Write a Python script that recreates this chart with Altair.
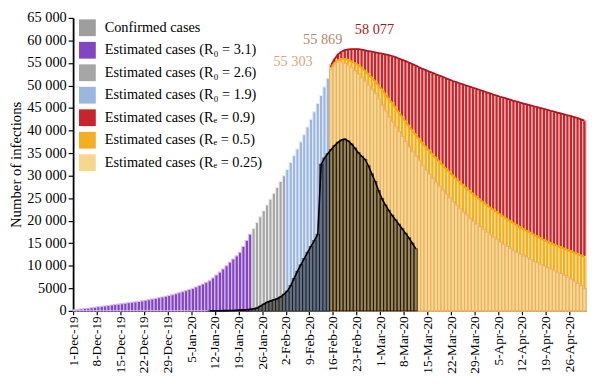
import altair as alt
import pandas as pd

FONT = "Liberation Serif, Times New Roman, serif"

# x axis: one category per day, 1-Dec-19 = day 0
TICK_LABELS = ["1-Dec-19", "8-Dec-19", "15-Dec-19", "22-Dec-19", "29-Dec-19", "5-Jan-20",
               "12-Jan-20", "19-Jan-20", "26-Jan-20", "2-Feb-20", "9-Feb-20", "16-Feb-20",
               "23-Feb-20", "1-Mar-20", "8-Mar-20", "15-Mar-20", "22-Mar-20", "29-Mar-20",
               "5-Apr-20", "12-Apr-20", "19-Apr-20", "26-Apr-20"]
TICK_DAYS = [7 * i for i in range(len(TICK_LABELS))]
N_DAYS = 152
Y_TICKS = [i * 5000 for i in range(14)]

SERIES = ["Confirmed cases",
          "Estimated cases (R\u2080 = 3.1)",
          "Estimated cases (R\u2080 = 2.6)",
          "Estimated cases (R\u2080 = 1.9)",
          "Estimated cases (R\u2091 = 0.9)",
          "Estimated cases (R\u2091 = 0.5)",
          "Estimated cases (R\u2091 = 0.25)"]
FILL = ["rgba(0,0,0,0.38)", "#8446c0", "#a6a6a6", "#9cb6e2", "#c8242c", "#f4ae22", "#f5d88c"]
STRIPE = ["rgba(0,0,0,0.55)", "#d6bcf0", "#ececec", "#e4ecf9", "#f6c0c0", "#fbe49a", "#eaae68"]
DRAW_ORDER = [5, 1, 1, 1, 2, 3, 4]

# values in thousands of infections
CONFIRMED_START = 40
CONFIRMED = [0.03, 0.04, 0.04, 0.045, 0.05, 0.06, 0.08, 0.1, 0.13, 0.17, 0.22, 0.28, 0.36, 0.46,
             0.62, 1.05, 1.5, 1.9, 2.2, 2.45, 2.7, 3.1, 3.7, 4.4, 5.6, 7.2, 8.8, 10.2, 11.6, 13.0,
             14.3, 15.6, 17.0, 32.5, 33.9, 34.9, 35.8, 36.7, 37.4, 37.9, 38.1, 37.7, 37.0, 36.1,
             35.1, 34.3, 33.6, 32.2, 30.4, 28.7, 26.7, 24.9, 23.5, 22.3, 21.2, 20.2, 19.2, 18.2,
             17.2, 16.2, 15.0, 13.8]

R31_START = 0
R31 = [0.25, 0.33, 0.42, 0.51, 0.6, 0.7, 0.8, 0.9, 1.0, 1.1, 1.2, 1.3, 1.4, 1.5, 1.6, 1.7, 1.8,
       1.9, 2.0, 2.1, 2.22, 2.35, 2.49, 2.63, 2.78, 2.93, 3.08, 3.24, 3.4, 3.6, 3.81, 4.03, 4.26,
       4.5, 4.75, 5.0, 5.3, 5.62, 5.96, 6.32, 6.7, 7.3, 7.95, 8.6, 9.3, 10.0, 10.8, 11.5, 12.2,
       13.0, 14.3, 15.6, 17.0]

R26_START = 53
R26 = [18.3, 19.6, 20.9, 22.2, 23.5, 24.8, 26.1, 27.4, 28.7, 30.0]

R19_START = 63
R19 = [31.4, 32.9, 34.4, 35.9, 37.5, 39.1, 40.8, 42.5, 44.2, 46.0, 47.8, 49.7, 51.6]

RE_START = 76
RE09 = [54.6, 55.9, 56.9, 57.5, 57.85, 58.0, 58.06, 58.077, 58.05, 57.95, 57.8, 57.65, 57.5,
        57.35, 57.2, 57.05, 56.9, 56.75, 56.55, 56.3, 56.0, 55.7, 55.4, 55.1, 54.75, 54.4, 54.05,
        53.7, 53.4, 53.1, 52.8, 52.5, 52.2, 51.9, 51.6, 51.3, 51.0, 50.75, 50.5, 50.25, 50.0,
        49.75, 49.5, 49.25, 49.0, 48.75, 48.5, 48.25, 48.0, 47.75, 47.5, 47.3, 47.1, 46.85, 46.6,
        46.4, 46.2, 46.0, 45.8, 45.6, 45.4, 45.2, 45.0, 44.8, 44.6, 44.4, 44.2, 44.0, 43.8, 43.6,
        43.4, 43.2, 43.0, 42.75, 42.5, 42.2]
RE05 = [53.8, 55.0, 55.6, 55.85, 55.869, 55.7, 55.3, 54.9, 54.5, 53.9, 53.2, 52.5, 51.7, 50.9,
        50.0, 49.1, 48.1, 47.1, 46.1, 45.1, 44.0, 43.0, 42.0, 41.0, 40.0, 39.1, 38.1, 37.2, 36.3,
        35.5, 34.7, 33.9, 33.1, 32.3, 31.5, 30.8, 30.0, 29.3, 28.6, 27.9, 27.2, 26.6, 25.9, 25.3,
        24.7, 24.1, 23.5, 22.9, 22.4, 21.9, 21.4, 20.9, 20.4, 19.9, 19.4, 19.0, 18.5, 18.1, 17.7,
        17.3, 16.9, 16.5, 16.1, 15.7, 15.4, 15.0, 14.7, 14.4, 14.1, 13.8, 13.5, 13.2, 12.9, 12.6,
        12.3, 12.0]
RE025 = [53.6, 54.8, 55.303, 55.2, 54.9, 54.5, 54.0, 53.3, 52.6, 51.8, 51.0, 50.1, 49.2, 48.3,
         47.0, 45.7, 44.4, 43.1, 42.0, 40.9, 39.8, 38.7, 37.6, 36.5, 35.4, 34.4, 33.3, 32.3, 31.3,
         30.4, 29.5, 28.6, 27.7, 26.8, 25.9, 25.1, 24.3, 23.5, 22.7, 22.0, 21.3, 20.6, 19.9, 19.3,
         18.7, 18.1, 17.5, 16.9, 16.4, 15.9, 15.3, 14.8, 14.3, 13.9, 13.4, 13.0, 12.6, 12.2, 11.8,
         11.4, 11.0, 10.7, 10.3, 10.0, 9.6, 9.3, 9.0, 8.6, 8.3, 7.9, 7.5, 7.1, 6.6, 6.1, 5.6, 5.0]

BLOCKS = [(0, CONFIRMED_START, CONFIRMED), (1, R31_START, R31), (2, R26_START, R26),
          (3, R19_START, R19), (4, RE_START, RE09), (5, RE_START, RE05), (6, RE_START, RE025)]

bar_rows = []
top_rows = []
for idx, start, vals in BLOCKS:
    for i, v in enumerate(vals):
        bar_rows.append({"series": SERIES[idx], "d": start + i, "d2": start + i + 1,
                         "v": v * 1000, "v0": 0, "z": DRAW_ORDER[idx]})
        top_rows.append({"line": idx, "d": start + i + 0.5, "v": v * 1000})
bars_df = pd.DataFrame(bar_rows).sort_values("z", kind="stable")
tops_df = pd.DataFrame(top_rows)


def peak_row(idx, start, vals):
    k = max(range(len(vals)), key=lambda j: vals[j])
    val = round(vals[k] * 1000)
    return {"line": idx, "d": start + k + 0.5, "v": val,
            "label": f"{val:,}".replace(",", " ")}


peaks_df = pd.DataFrame([peak_row(6, RE_START, RE025), peak_row(5, RE_START, RE05),
                         peak_row(4, RE_START, RE09)])

label_expr_x = "[" + ",".join(f"'{t}'" for t in TICK_LABELS) + "][round(datum.value / 7)]"
label_expr_y = ("datum.value >= 10000 ? replace(format(datum.value, ','), ',', ' ') "
                ": format(datum.value, 'd')")

X = alt.X("d:Q", title=None,
          scale=alt.Scale(domain=[0, N_DAYS], nice=False, zero=False),
          axis=alt.Axis(values=TICK_DAYS, labelExpr=label_expr_x, labelAngle=270,
                        labelFontSize=13.5, tickSize=4, tickWidth=1.2, domainWidth=1.5,
                        labelPadding=1, labelOverlap=False, labelFlush=False, grid=False))
Y = alt.Y("v:Q", title="Number of infections", stack=None,
          scale=alt.Scale(domain=[0, 65000], nice=False),
          axis=alt.Axis(values=Y_TICKS, labelExpr=label_expr_y, tickSize=5, tickWidth=1.2,
                        domainWidth=1.8, labelPadding=2, labelOverlap=False, grid=False,
                        titleX=-58, titleY=148.5, titleAngle=270, titleBaseline="middle",
                        titleAlign="center"))

bars = alt.Chart(bars_df).mark_bar(strokeWidth=1.1).encode(
    x=X, x2="d2:Q", y=Y, y2="v0:Q",
    color=alt.Color("series:N", scale=alt.Scale(domain=SERIES, range=FILL),
                    legend=alt.Legend(title=None, orient="none", legendX=6, legendY=1.5,
                                      direction="vertical", symbolType="square",
                                      symbolSize=289, symbolStrokeWidth=0,
                                      labelFont=FONT, labelFontSize=14.5, labelColor="black",
                                      rowPadding=5.8, labelOffset=9, padding=0, labelLimit=0)),
    stroke=alt.Stroke("series:N", scale=alt.Scale(domain=SERIES, range=STRIPE), legend=None),
    order=alt.Order("z:Q"),
)


def top_line(idx, color, width, dash=None):
    kw = {"color": color, "strokeWidth": width}
    if dash:
        kw["strokeDash"] = dash
    return alt.Chart(tops_df).transform_filter(f"datum.line == {idx}").mark_line(**kw).encode(x=X, y=Y)


lines = [top_line(4, "#b3131c", 1.8), top_line(5, "#f2a900", 2.2),
         top_line(6, "#f0b887", 1.4, [3, 2]), top_line(0, "#000000", 1.6)]


def peak_text(idx, color, dx, dy):
    return alt.Chart(peaks_df).transform_filter(f"datum.line == {idx}").mark_text(
        font=FONT, fontSize=14.5, color=color, dx=dx, dy=dy, align="center",
        baseline="middle").encode(x=X, y=Y, text="label:N")


texts = [peak_text(6, "#dca57c", -45.6, 0.2), peak_text(5, "#ae8a6c", -22.4, -18.9),
         peak_text(4, "#a31b22", 19.8, -18.8)]

chart = alt.layer(bars, *lines, *texts).properties(
    width=520, height=297,
    padding={"left": 66, "top": 7.5, "right": 6, "bottom": 64.5},
    autosize=alt.AutoSizeParams(type="none"),
).configure_view(stroke=None).configure_axis(
    labelFont=FONT, titleFont=FONT, labelFontSize=14.5, titleFontSize=15,
    labelColor="black", titleColor="black", domainColor="black", tickColor="black",
    titleFontWeight="normal",
)

chart.save("out.html", embed_options={"renderer": "svg", "actions": False})
